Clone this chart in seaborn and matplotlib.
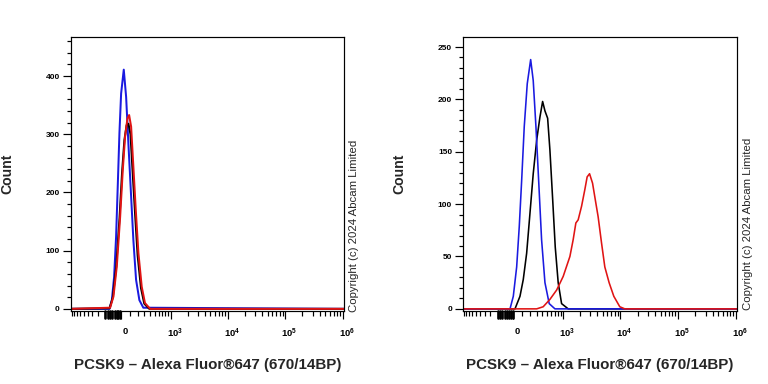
import matplotlib
matplotlib.use("Agg")
import matplotlib.pyplot as plt
import matplotlib.transforms as mtransforms
import numpy as np
import seaborn as sns

## values (x in fluorescence units, y = count)
x_min, x_max = -1050, 1.05e6

left_blue_x = [-136, -107, -80, -57, -37, -19, 0, 30, 57, 83, 112, 144, 179, 225, 285]
left_blue_y = [0, 15, 55, 124, 216, 302, 370, 411, 364, 285, 204, 118, 50, 15, 2]
left_black_x = [-135, -95, -56, -18, 11, 37, 63, 84, 108, 135, 166, 200, 248, 300, 390]
left_black_y = [1, 20, 72, 156, 235, 290, 316, 318, 300, 234, 163, 92, 36, 9, 0]
left_red_x = [-128, -88, -49, -11, 19, 45, 72, 92, 116, 144, 175, 211, 260, 312, 406]
left_red_y = [2, 21, 73, 158, 239, 296, 327, 333, 313, 244, 170, 96, 38, 10, 0]

right_blue_x = [-39, -2, 36, 66, 94, 125, 163, 209, 246, 288, 333, 387, 455, 553, 711]
right_blue_y = [0, 12, 40, 79, 123, 174, 215, 238, 218, 174, 123, 66, 25, 5, 0]
right_black_x = [17, 74, 113, 155, 199, 246, 300, 356, 407, 455, 515, 570, 645,
                 720, 816, 941, 1236]
right_black_y = [0, 12, 28, 53, 91, 129, 161, 183, 198, 189, 182, 152, 104, 59,
                 25, 5, 0]
right_red_x = [300, 418, 570, 765, 1006, 1325, 1513, 1688, 1853, 2126, 2426, 2659,
               2929, 3302, 3767, 4128, 4729, 5395, 6407, 7727, 9816, 11982]
right_red_y = [0, 2, 9, 18, 31, 50, 66, 82, 85, 98, 114, 126, 129, 120, 101, 88,
               63, 40, 25, 12, 2, 0]

major_x = [0, 1e3, 1e4, 1e5, 1e6]
major_x_labels = ["0", "$10^{3}$", "$10^{4}$", "$10^{5}$", "$10^{6}$"]
zero_clump = [-190, -160, -130, -100, -75, -50, -30, -10]

x_label = "PCSK9 – Alexa Fluor®647 (670/14BP)"
copyright_text = "Copyright (c) 2024 Abcam Limited"

blue, red = "#1a1ae0", "#e01414"

sns.set_style("ticks")
plt.rcParams["font.family"] = ["Liberation Sans", "DejaVu Sans"]
plt.rcParams["mathtext.fontset"] = "custom"
plt.rcParams["mathtext.rm"] = "Liberation Sans:bold"
plt.rcParams["mathtext.it"] = "Liberation Sans:bold"
plt.rcParams["mathtext.bf"] = "Liberation Sans:bold"


def with_ends(x, y):
    # traces run along the baseline over the whole axis
    return [x_min] + list(x) + [x_max], [0] + list(y) + [0]


def minor_ticks():
    out = [-k * 100 for k in range(3, 11)]
    out += [k * 100 for k in range(1, 10)]
    for n in [3, 4, 5]:
        out += [k * 10 ** n for k in range(2, 10)]
    return out


def style_axis(ax, ymax, ystep, yminor, fig):
    ax.set_xscale("asinh", linear_width=282)
    ax.set_xlim(x_min, x_max)
    ax.set_ylim(-ymax * 0.008, ymax)
    ax.set_xticks(major_x)
    ax.set_xticklabels(major_x_labels)
    ax.set_xticks(minor_ticks(), minor=True)
    ax.set_yticks(np.arange(0, ymax, ystep))
    ax.set_yticks(np.arange(0, ymax, yminor), minor=True)
    ax.tick_params(axis="both", which="both", direction="out", colors="black",
                   width=0.9)
    ax.tick_params(axis="x", which="major", length=6, pad=6, labelsize=7)
    ax.tick_params(axis="x", which="minor", length=3.5)
    ax.tick_params(axis="y", which="major", length=6, pad=2, labelsize=6.3)
    ax.tick_params(axis="y", which="minor", length=3)
    # the dense clump of short ticks around zero
    for v in zero_clump:
        ax.plot([v, v], [0, -0.024], color="black", linewidth=2.0,
                transform=ax.get_xaxis_transform(), clip_on=False)
    for lab in ax.get_yticklabels():
        lab.set_fontweight("bold")
    shift = mtransforms.ScaledTranslation(4 / 96, 0, fig.dpi_scale_trans)
    for lab in ax.get_xticklabels():
        lab.set_fontweight("bold")
        lab.set_transform(lab.get_transform() + shift)
    for s in ax.spines.values():
        s.set_visible(True)
        s.set_linewidth(0.9)
        s.set_color("black")
    ax.set_xlabel(x_label, fontsize=11.3, fontweight="bold", labelpad=13)
    ax.set_ylabel("Count", fontsize=10.5, fontweight="bold")
    ax.yaxis.set_label_coords(-0.205, 0.5)


fig = plt.figure(figsize=(8, 4), dpi=96)
ax1 = fig.add_axes([0.0918, 0.190, 0.356, 0.7135])
ax2 = fig.add_axes([0.6025, 0.190, 0.357, 0.7135])

for x, y, c in [(left_blue_x, left_blue_y, blue),
                (left_black_x, left_black_y, "black"),
                (left_red_x, left_red_y, red)]:
    xx, yy = with_ends(x, y)
    sns.lineplot(x=xx, y=yy, color=c, linewidth=1.5, ax=ax1)

for x, y, c in [(right_black_x, right_black_y, "black"),
                (right_blue_x, right_blue_y, blue),
                (right_red_x, right_red_y, red)]:
    xx, yy = with_ends(x, y)
    sns.lineplot(x=xx, y=yy, color=c, linewidth=1.2, ax=ax2)

style_axis(ax1, 467, 100, 20, fig)
style_axis(ax2, 259.5, 50, 10, fig)

fig.text(354 / 768, 1 - 312 / 384, copyright_text, rotation=90, ha="center",
         va="bottom", fontsize=8.5)
fig.text(748 / 768, 1 - 310 / 384, copyright_text, rotation=90, ha="center",
         va="bottom", fontsize=8.5)

fig.savefig("out.png", dpi=96)
